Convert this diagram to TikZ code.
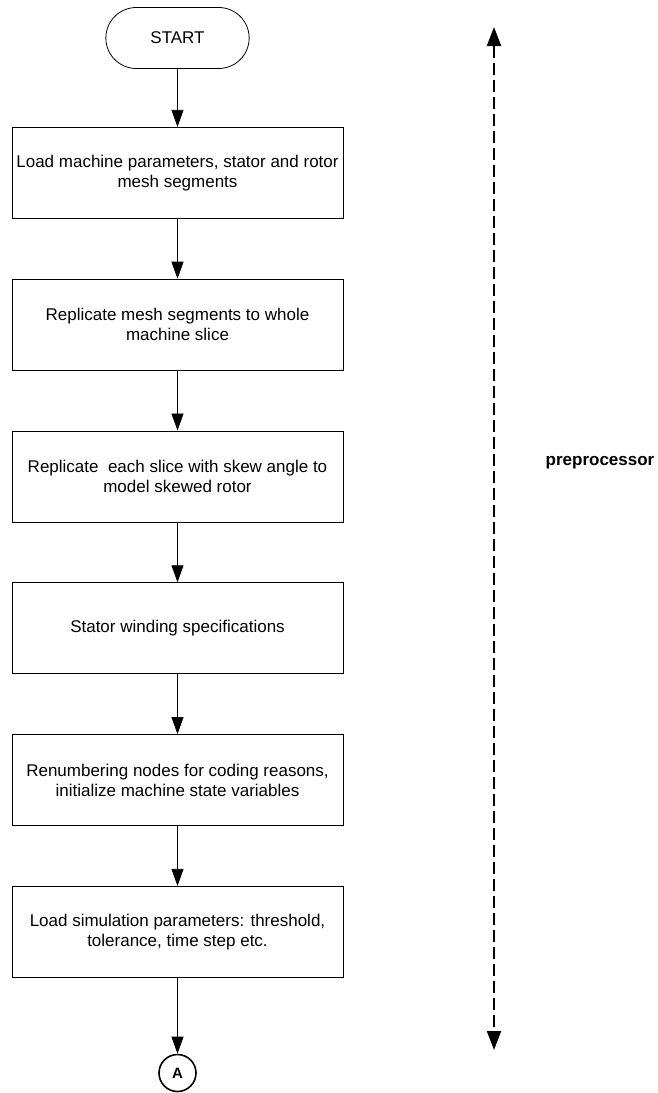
\documentclass[tikz,border=0pt]{standalone}
\usepackage{fontspec}
\setmainfont{Liberation Sans}
\usetikzlibrary{positioning,arrows.meta,shapes.misc}

\begin{document}
\begin{tikzpicture}[x=1pt, y=-1pt, node distance=60pt,
    font=\fontsize{17}{20}\selectfont,
    proc/.style={draw, line width=0.8pt, minimum width=331pt, minimum height=91pt, align=center},
    flow/.style={-{Triangle[length=17pt,width=12pt]}, line width=0.8pt}]
  \useasboundingbox (0,0) rectangle (658,1093);

  % main chain
  \node[draw, rounded rectangle, line width=0.8pt, minimum width=150pt, minimum height=61pt] (start) at (177.5,38) {START};
  \node[proc, below=58pt of start] (load) {Load machine parameters, stator and rotor\\mesh segments};
  \node[proc, below=of load] (repl) {Replicate mesh segments to whole\\machine slice};
  \node[proc, below=of repl] (skew) {Replicate\ \ each slice with skew angle to\\model skewed rotor};
  \node[proc, below=of skew] (wind) {Stator winding specifications};
  \node[proc, below=of wind] (renum) {Renumbering nodes for coding reasons,\\initialize machine state variables};
  \node[proc, below=of renum] (sim) {Load simulation parameters: threshold,\\tolerance, time step etc.};
  \node[draw, circle, line width=1.6pt, minimum size=37pt, inner sep=0pt, font=\fontsize{15}{16}\selectfont\bfseries, below=76pt of sim] (conA) {A};

  \draw[flow] (start) -- (load);
  \draw[flow] (load) -- (repl);
  \draw[flow] (repl) -- (skew);
  \draw[flow] (skew) -- (wind);
  \draw[flow] (wind) -- (renum);
  \draw[flow] (renum) -- (sim);
  \draw[flow] (sim) -- (conA);

  % preprocessor span
  \coordinate (ptop) at (494,27);
  \coordinate (pbot) at (494,1050);
  \draw[{Triangle[length=19pt,width=14pt]}-{Triangle[length=19pt,width=14pt]}, line width=2pt, dash pattern=on 12pt off 5pt] (ptop) -- (pbot);
  \node[font=\fontsize{17}{20}\selectfont\bfseries] (pre) at (600,463) {preprocessor};
\end{tikzpicture}
\end{document}
